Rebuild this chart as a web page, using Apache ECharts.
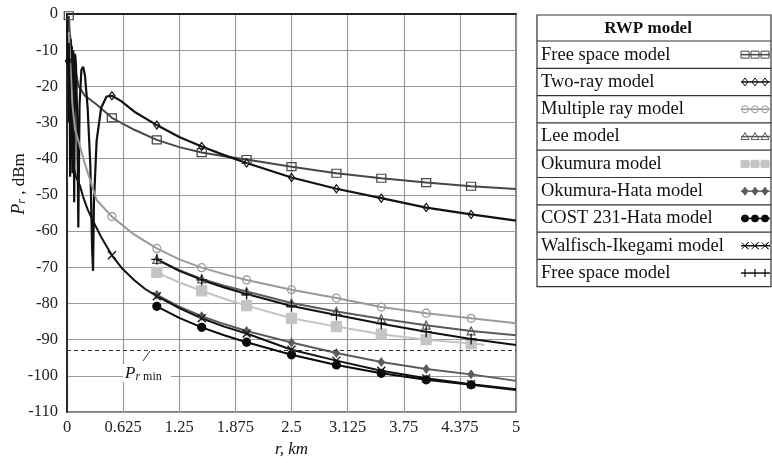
<!DOCTYPE html>
<html lang="en">
<head>
<meta charset="UTF-8">
<title>RWP models - received power vs distance</title>
<script src="https://cdn.jsdelivr.net/npm/echarts@6/dist/echarts.min.js"></script>
<style>
  html, body { margin: 0; padding: 0; background: #fff; }
  #chart { width: 772px; height: 463px; }
</style>
</head>
<body>
<div id="chart"></div>
<script>
// distances (km) where markers are drawn
var markR = [0.5, 1, 1.5, 2, 2.5, 3, 3.5, 4, 4.5];
var rFar = [1, 1.25, 1.5, 1.75, 2, 2.5, 3, 3.5, 4, 4.5, 5];

// received power, dBm
var freeR = [0.02, 0.03, 0.05, 0.08, 0.13, 0.2, 0.33, 0.5, 0.75, 1, 1.25, 1.5, 1.75, 2, 2.5, 3, 3.5, 4, 4.5, 5];
var freeP = [-0.5, -5, -9, -14, -20, -22.6, -25, -28.7, -32, -34.8, -36.8, -38.3, -39.3, -40.2, -42.2, -44, -45.4, -46.6, -47.6, -48.4];

var twoRayR = [0.005, 0.01, 0.015, 0.02, 0.025, 0.03, 0.035, 0.042, 0.048, 0.055, 0.062, 0.07, 0.08, 0.09, 0.1,
  0.115, 0.126, 0.14, 0.16, 0.18, 0.2, 0.23, 0.26, 0.28, 0.29, 0.3, 0.33, 0.38, 0.44, 0.5,
  0.6, 0.75, 1, 1.25, 1.5, 1.75, 2, 2.5, 3, 3.5, 4, 4.5, 5];
var twoRayP = [-1, -14, -13, -30, -8, -20, -45, -7, -40, -9, -44, -10, -52, -11, -14,
  -30, -59, -25, -15.5, -14.6, -17, -26, -42, -65, -71, -52, -35, -26, -22.8, -22.6,
  -24, -27, -30.7, -34, -36.6, -39, -41.2, -45.2, -48.3, -50.9, -53.5, -55.4, -57.1];

var multiR = [0.02, 0.04, 0.06, 0.09, 0.126, 0.2, 0.33, 0.5, 0.75, 1, 1.25, 1.5, 1.75, 2, 2.5, 3, 3.5, 4, 4.5, 5];
var multiP = [-5, -15, -25, -32, -35, -41.5, -51.4, -56, -61, -64.8, -67.8, -70.1, -71.9, -73.5, -76.2, -78.5, -81, -82.7, -84.1, -85.5];

var leeP = [-67.8, -70.8, -73.2, -75.1, -76.7, -79.9, -82.2, -84.2, -86, -87.6, -88.8];

var okuR = [1, 1.25, 1.5, 1.75, 2, 2.5, 3, 3.5, 4, 4.5, 4.65];
var okuP = [-71.4, -74.2, -76.5, -78.7, -80.6, -84.1, -86.4, -88.5, -90, -91.1, -91.4];

var hataP = [-77.6, -80.9, -83.5, -85.7, -87.6, -90.8, -93.7, -96.2, -98.1, -99.6, -101.4];
var costP = [-80.8, -84, -86.6, -88.8, -90.7, -94.2, -97, -99.3, -101.1, -102.5, -103.9];

var wiR = [0.02, 0.03, 0.05, 0.07, 0.1, 0.145, 0.18, 0.23, 0.29, 0.38, 0.5, 0.62, 0.75, 0.87, 1, 1.25, 1.5, 1.75, 2, 2.5, 3, 3.5, 4, 4.5, 5];
var wiP = [-8, -22, -35, -42, -45, -47.5, -50.6, -54, -57.2, -61.6, -66.7, -70.5, -73.6, -76, -78, -81.3, -84.1, -86.4, -88.3, -92.8, -95.8, -98.6, -100.7, -102.3, -103.7];

var free2P = [-67.8, -71, -73.5, -75.6, -77.4, -80.7, -83.2, -85.6, -87.8, -89.8, -91.5];

var prMin = -93;

var names = ['Free space model', 'Two-ray model', 'Multiple ray model', 'Lee model', 'Okumura model',
  'Okumura-Hata model', 'COST 231-Hata model', 'Walfisch-Ikegami model', 'Free space model'];

var FONT = '"Liberation Serif", "DejaVu Serif", serif';
var PLUS = 'path://M5,0L5,10M0,5L10,5';
var CROSS = 'path://M0,0L10,10M10,0L0,10';

// build [r, P] points, symbol only where a marker should be
function pts(rs, ps, extra) {
  var marks = markR.concat(extra || []);
  return rs.map(function (r, i) {
    if (marks.indexOf(r) >= 0) return [r, ps[i]];
    return { value: [r, ps[i]], symbol: 'none' };
  });
}

function line(name, data, color, symbol, size, opts) {
  opts = opts || {};
  return {
    name: name,
    type: 'line',
    data: data,
    symbol: symbol,
    symbolSize: size,
    showAllSymbol: true,
    smooth: false,
    z: opts.z || 3,
    lineStyle: { color: color, width: opts.width || 2 },
    itemStyle: { color: opts.fill || 'rgba(0,0,0,0)', borderColor: color, borderWidth: opts.bw || 1.2 },
    emphasis: { disabled: true },
    animation: false
  };
}

var series = [
  line(names[0], pts(freeR, freeP, [0.02]), '#474747', 'rect', [9, 8]),
  line(names[1], pts(twoRayR, twoRayP, [0.015]), '#111', 'diamond', [6, 8], { width: 2.2 }),
  line(names[2], pts(multiR, multiP), '#9a9a9a', 'circle', 8),
  line(names[3], pts(rFar, leeP), '#5a5a5a', 'triangle', 8),
  line(names[4], pts(okuR, okuP), '#c4c4c4', 'rect', 10, { z: 2, fill: '#c4c4c4' }),
  line(names[5], pts(rFar, hataP), '#5c5c5c', 'diamond', [6, 8], { fill: '#5c5c5c' }),
  line(names[6], pts(rFar, costP), '#0a0a0a', 'circle', 8, { fill: '#0a0a0a' }),
  line(names[7], pts(wiR, wiP), '#111', CROSS, 8, { fill: 'none', bw: 1.3 }),
  line(names[8], pts(rFar, free2P), '#111', PLUS, 11, { fill: 'none', bw: 1.3 }),
  {
    name: 'Pr min',
    type: 'line',
    data: [],
    markLine: {
      silent: true,
      symbol: ['none', 'none'],
      label: { show: false },
      lineStyle: { color: '#333', width: 1, type: [4, 3] },
      data: [{ yAxis: prMin }]
    }
  }
];

// legend table
var tblX = 537, tblY = 15, tblW = 234, headH = 26, rowH = 27.3;
var kinds = ['emptyRect', 'emptyDiamond', 'emptyCircle', 'emptyTriangle', 'rect', 'diamond', 'circle', 'cross', 'plus'];
var legColors = ['#474747', '#111', '#9a9a9a', '#5a5a5a', '#c4c4c4', '#5c5c5c', '#0a0a0a', '#111', '#111'];

function icon(kind, cx, cy, color) {
  var empty = kind.indexOf('empty') === 0;
  var st = { stroke: color, lineWidth: 1, fill: empty ? null : color };
  var k = kind.replace('empty', '').toLowerCase();
  if (k === 'rect') return { type: 'rect', shape: { x: cx - 4, y: cy - 3.5, width: 8, height: 7 }, style: st };
  if (k === 'circle') return { type: 'circle', shape: { cx: cx, cy: cy, r: 3.5 }, style: st };
  if (k === 'diamond') return { type: 'polygon', shape: { points: [[cx, cy - 4], [cx + 3, cy], [cx, cy + 4], [cx - 3, cy]] }, style: st };
  if (k === 'triangle') return { type: 'polygon', shape: { points: [[cx, cy - 4], [cx + 4, cy + 3], [cx - 4, cy + 3]] }, style: st };
  if (k === 'cross') return { type: 'polyline', shape: { points: [[cx - 3.5, cy - 3.5], [cx + 3.5, cy + 3.5], [cx, cy], [cx + 3.5, cy - 3.5], [cx - 3.5, cy + 3.5]] }, style: { stroke: color, lineWidth: 1, fill: null } };
  return { type: 'polyline', shape: { points: [[cx, cy - 4], [cx, cy + 4]] }, style: { stroke: color, lineWidth: 1.2, fill: null } };
}

var graphics = [
  { type: 'rect', shape: { x: tblX, y: tblY, width: tblW, height: headH + rowH * names.length },
    style: { fill: '#fff', stroke: '#333', lineWidth: 1.2 } },
  { type: 'text', x: tblX + tblW / 2 - 6, y: tblY + headH / 2 + 1,
    style: { text: 'RWP model', font: 'bold 17px ' + FONT, fill: '#111', align: 'center', verticalAlign: 'middle' } }
];
names.forEach(function (n, i) {
  var top = tblY + headH + rowH * i;
  var cy = top + rowH / 2;
  graphics.push({ type: 'line', shape: { x1: tblX, y1: top, x2: tblX + tblW, y2: top }, style: { stroke: '#333', lineWidth: 1.2 } });
  graphics.push({ type: 'text', x: tblX + 4, y: cy,
    style: { text: n, font: '18.5px ' + FONT, fill: '#111', verticalAlign: 'middle' } });
  graphics.push({ type: 'line', shape: { x1: 741, y1: cy, x2: 770, y2: cy }, style: { stroke: legColors[i], lineWidth: 1.5 } });
  [745, 755, 765].forEach(function (x) { graphics.push(icon(kinds[i], x, cy, legColors[i])); });
});

// y axis title, P_min label
graphics.push({
  type: 'text', x: 17, y: 184, rotation: Math.PI / 2,
  style: {
    text: '{p|P}{r|r}{t| , dBm}', align: 'center', verticalAlign: 'middle',
    rich: {
      p: { font: 'italic 18px ' + FONT, fill: '#111', lineHeight: 22, verticalAlign: 'bottom' },
      r: { font: 'italic 12px ' + FONT, fill: '#111', lineHeight: 13, verticalAlign: 'bottom' },
      t: { font: '17px ' + FONT, fill: '#111', lineHeight: 22, verticalAlign: 'bottom' }
    }
  }
});
graphics.push({ type: 'rect', z: 100, shape: { x: 123, y: 364, width: 48, height: 18 }, style: { fill: '#fff' } });
graphics.push({ type: 'line', z: 101, shape: { x1: 143, y1: 361, x2: 150, y2: 351 }, style: { stroke: '#333', lineWidth: 1 } });
graphics.push({
  type: 'text', z: 101, x: 125, y: 373,
  style: {
    text: '{p|P}{r|r}{m| min}', verticalAlign: 'middle',
    rich: {
      p: { font: 'italic 17px ' + FONT, fill: '#111', lineHeight: 19, verticalAlign: 'bottom' },
      r: { font: 'italic 12px ' + FONT, fill: '#111', lineHeight: 11, verticalAlign: 'bottom' },
      m: { font: '12px ' + FONT, fill: '#111', lineHeight: 11, verticalAlign: 'bottom' }
    }
  }
});

var chart = echarts.init(document.getElementById('chart'), null, { renderer: 'canvas' });
chart.setOption({
  animation: false,
  backgroundColor: '#fff',
  grid: {
    left: 67, top: 14, right: 256, bottom: 51,
    outerBoundsMode: 'none', containLabel: false,
    show: true, borderColor: '#555', borderWidth: 1.5
  },
  xAxis: {
    type: 'value', min: 0, max: 5, interval: 0.625,
    name: 'r, km', nameLocation: 'middle', nameGap: 28,
    nameTextStyle: { fontFamily: FONT, fontStyle: 'italic', fontSize: 17, color: '#111' },
    axisLine: { lineStyle: { color: '#222', width: 1.8 } },
    axisTick: { show: false },
    axisLabel: { fontFamily: FONT, fontSize: 16.5, color: '#222', margin: 7 },
    splitLine: { lineStyle: { color: '#999', width: 1.2 } }
  },
  yAxis: {
    type: 'value', min: -110, max: 0, interval: 10,
    axisLine: { show: true, lineStyle: { color: '#222', width: 1.8 } },
    axisTick: { show: false },
    axisLabel: { fontFamily: FONT, fontSize: 16.5, color: '#222', margin: 9 },
    splitLine: { lineStyle: { color: '#999', width: 1.2 } }
  },
  series: series,
  graphic: graphics
});
</script>
</body>
</html>
